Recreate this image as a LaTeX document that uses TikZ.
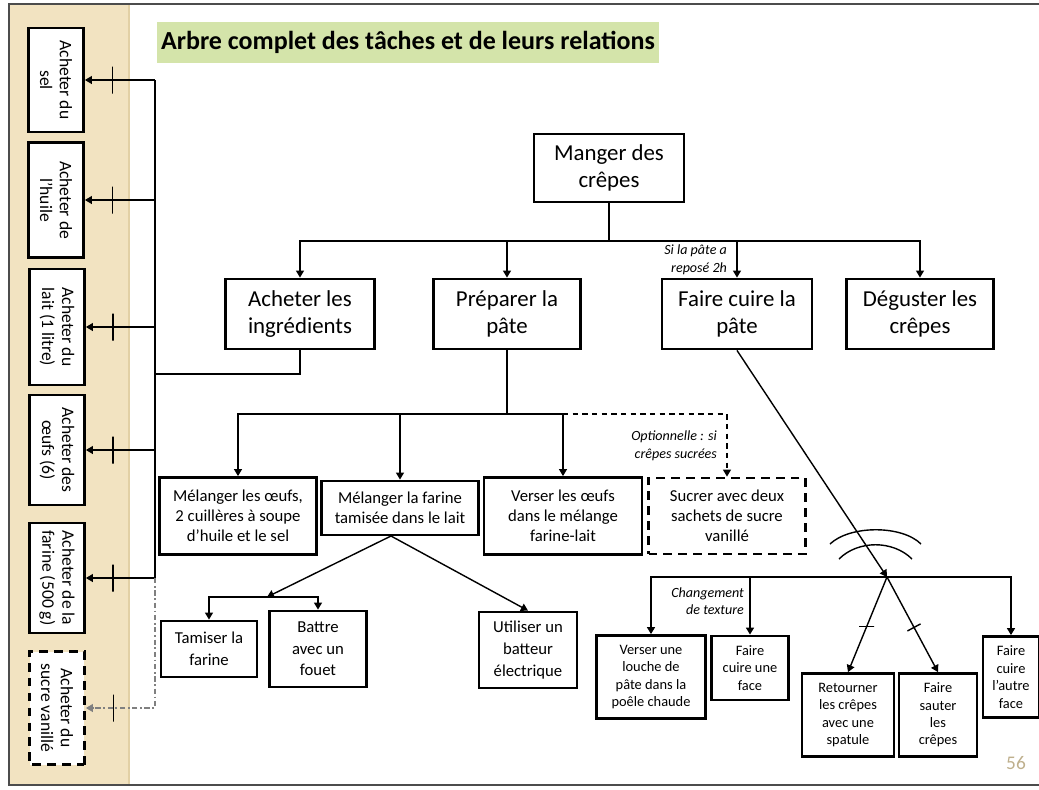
\documentclass[tikz,border=0pt]{standalone}
\usepackage{fontspec}
\setmainfont{Carlito}
\usetikzlibrary{arrows.meta}
\definecolor{vert}{RGB}{212,228,170}
\definecolor{sable}{RGB}{242,227,193}
\definecolor{sablefonce}{RGB}{226,208,165}
\definecolor{numero}{RGB}{190,175,140}

\begin{document}
\begin{tikzpicture}[x=0.02cm,y=-0.02cm,>={Triangle[length=4pt,width=4.5pt]}]
\tikzstyle{every node}+=[inner sep=1pt]
\tikzstyle{arr}=[->,line width=0.8pt]
\tikzstyle{big}=[draw,line width=1.6pt,align=center,font=\fontsize{13}{15.5}\selectfont]
\tikzstyle{mid}=[draw,line width=1.6pt,align=center,font=\fontsize{9.5}{11.3}\selectfont]
\tikzstyle{small}=[draw,line width=1.6pt,align=center,font=\fontsize{8.2}{9.9}\selectfont]
\tikzstyle{side}=[draw,fill=white,line width=1.6pt,rotate=-90,minimum height=1.1cm,align=center,font=\fontsize{10}{11.3}\selectfont]
\tikzstyle{lbl}=[anchor=east,align=right,font=\itshape\fontsize{8}{10}\selectfont]
\tikzstyle{tickv}=[draw,solid,black,line width=0.8pt,inner sep=0pt,minimum width=0pt,minimum height=0.54cm]
\tikzstyle{tickh}=[draw,solid,black,line width=0.8pt,inner sep=0pt,minimum width=0.3cm,minimum height=0pt]
\tikzstyle{pointille}=[dash pattern=on 5pt off 3.5pt]

\useasboundingbox (0,0) rectangle (1039,789);
\fill[sable] (9,4) rectangle (130,785);
\draw[sablefonce,line width=1.5pt] (129,4) -- (129,785);
\draw[black!70,line width=1.2pt] (9,4) rectangle (1050,785);

\node[fill=vert,minimum width=10.06cm,minimum height=0.82cm,font=\bfseries\fontsize{14.8}{17}\selectfont] (titre) at (408,42) {Arbre complet des tâches et de leurs relations};

\node[side,minimum width=2.08cm] (sel) at (56,80) {Acheter du\\sel};
\node[side,minimum width=2.3cm] (huile) at (56,200) {Acheter de\\l'huile};
\node[side,minimum width=2.32cm] (lait) at (57,327) {Acheter du\\lait (1 litre)};
\node[side,minimum width=2.2cm] (oeufs) at (57,450) {Acheter des\\œufs (6)};
\node[side,minimum width=2.2cm] (farineA) at (57,578) {Acheter de la\\farine (500 g)};
\node[side,pointille,minimum width=2.26cm] (vanille) at (57,708) {Acheter du\\sucre vanillé};

\node[big,minimum width=3cm,minimum height=1.36cm] (manger) at (609,168) {Manger des\\crêpes};
\node[big,minimum width=2.98cm,minimum height=1.4cm] (acheter) at (300,314) {Acheter les\\ingrédients};
\node[big,minimum width=2.94cm,minimum height=1.4cm] (preparer) at (507,314) {Préparer la\\pâte};
\node[big,minimum width=3cm,minimum height=1.4cm] (cuire) at (737,314) {Faire cuire la\\pâte};
\node[big,minimum width=2.94cm,minimum height=1.4cm] (deguster) at (920,314) {Déguster les\\crêpes};
\node[lbl] (repos) at (729,260) {Si la pâte a\\reposé 2h};

\node[mid,minimum width=3.14cm,minimum height=1.54cm] (melOeufs) at (238,516) {Mélanger les œufs,\\2 cuillères à soupe\\d'huile et le sel};
\node[mid,minimum width=3.14cm,minimum height=1.08cm] (melFarine) at (400,508) {Mélanger la farine\\tamisée dans le lait};
\node[mid,minimum width=3.16cm,minimum height=1.54cm] (verser) at (563,516) {Verser les œufs\\dans le mélange\\farine-lait};
\node[mid,pointille,minimum width=3.14cm,minimum height=1.52cm] (sucrer) at (727,516) {Sucrer avec deux\\sachets de sucre\\vanillé};
\node[lbl] (option) at (719,446) {Optionnelle : si\\crêpes sucrées};

\node[mid,minimum width=1.92cm,minimum height=1.12cm,font=\fontsize{9.5}{12.3}\selectfont] (tamiser) at (209,649) {Tamiser la\\farine};
\node[mid,minimum width=1.94cm,minimum height=1.52cm,font=\fontsize{9.5}{12.3}\selectfont] (battre) at (318,649) {Battre\\avec un\\fouet};
\node[mid,minimum width=1.96cm,minimum height=1.52cm,font=\fontsize{9.5}{12.3}\selectfont] (batteur) at (528,650) {Utiliser un\\batteur\\électrique};

\node[small,minimum width=2.18cm,minimum height=1.66cm] (louche) at (651,677) {Verser une\\louche de\\pâte dans la\\poêle chaude};
\node[small,minimum width=1.54cm,minimum height=1.28cm] (uneFace) at (750,668) {Faire\\cuire une\\face};
\node[small,minimum width=1.84cm,minimum height=1.66cm] (retourner) at (848,715) {Retourner\\les crêpes\\avec une\\spatule};
\node[small,minimum width=1.56cm,minimum height=1.66cm] (sauter) at (938,715) {Faire\\sauter\\les\\crêpes};
\node[small,minimum width=1.12cm,minimum height=1.62cm] (autreFace) at (1011,677) {Faire\\cuire\\l'autre\\face};
\node[lbl] (texture) at (746,601) {Changement\\de texture};

\node[text=numero,font=\fontsize{11}{13}\selectfont] (page) at (1016,763) {56};

\coordinate (busA) at (609,241);
\coordinate (busL) at (155,374);
\coordinate (busB) at (507,414);
\coordinate (apex) at (391,536);
\coordinate (busC) at (267,597);
\coordinate (busD) at (887,577);

\draw[line width=1.2pt] (manger.south) -- (busA);
\foreach \n in {acheter,preparer,cuire,deguster}
  \draw[arr] (busA) -| (\n.north);

\draw[line width=0.8pt] (acheter.south) |- (busL);
\draw[line width=0.8pt] (busL |- sel.north) -- (busL |- farineA.north);
\foreach \n in {sel,huile,lait,oeufs,farineA}
  \draw[arr] (busL |- \n.north) -- (\n.north) node[pos=0.61,tickv]{};
\draw[arr,gray,dash pattern=on 3pt off 1.5pt on 1pt off 1.5pt] (busL |- farineA.north) |- (vanille.north) node[pos=0.8,tickv]{};

\draw[line width=1.2pt] (preparer.south) -- (busB);
\foreach \n in {melOeufs,melFarine,verser}
  \draw[arr] (busB) -| (\n.north);
\draw[arr,dash pattern=on 3pt off 2.5pt] (busB -| verser.north) -| (sucrer.north);

\draw[arr] (apex) -- (busC);
\draw[arr] (busC) -| (tamiser.north);
\draw[arr] (busC) -| (battre.north);
\draw[arr] (apex) -- (batteur.north);

\draw[arr] (cuire.south) -- (busD);
\draw[line width=0.8pt] (830,544) .. controls (850,525) and (902,525) .. (921,544);
\draw[line width=0.8pt] (839,559) .. controls (858,540) and (893,540) .. (912,559);
\foreach \n in {louche,uneFace,autreFace}
  \draw[arr,line width=1.1pt] (busD) -| (\n.north);
\draw[arr] (busD) -- (retourner.north) node[pos=0.52,tickh]{};
\draw[arr] (busD) -- (sauter.north) node[pos=0.53,sloped,tickv,minimum height=0.3cm]{};
\end{tikzpicture}
\end{document}
